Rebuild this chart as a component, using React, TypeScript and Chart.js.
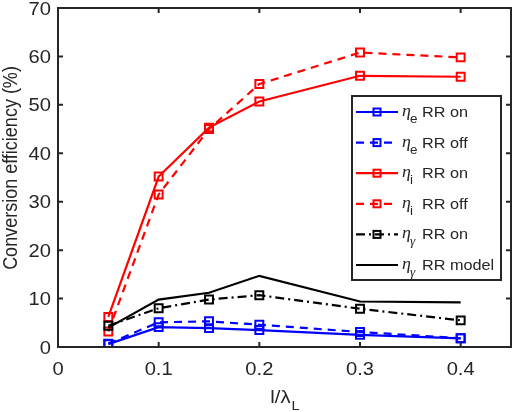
import React, { useEffect, useRef } from 'react';
import { Chart, registerables } from 'chart.js';

Chart.register(...registerables);

// l / lambda_L values
const ratio = [0.05, 0.1, 0.15, 0.2, 0.3, 0.4];

// Conversion efficiencies (%)
const etaERrOn = [0.6, 4.1, 3.9, 3.5, 2.5, 1.8];
const etaERrOff = [0.7, 5.1, 5.3, 4.6, 3.1, 1.8];
const etaIRrOn = [6.2, 35.2, 45.3, 50.7, 56.0, 55.8];
const etaIRrOff = [3.2, 31.5, 45.0, 54.3, 60.8, 59.8];
const etaGRrOn = [4.4, 8.0, 9.8, 10.7, 7.9, 5.5];
const etaGModel = [4.0, 9.8, 11.2, 14.7, 9.4, 9.2];

const xTicks = [0, 0.1, 0.2, 0.3, 0.4];
const yTicks = [0, 10, 20, 30, 40, 50, 60, 70];

const legendLabels = ['RR on', 'RR off', 'RR on', 'RR off', 'RR on', 'RR model'];
const legendSubs = ['e', 'e', 'i', 'i', 'γ', 'γ'];

const AXIS = '#262626';
const SANS = '"Liberation Sans", Arial, Helvetica, sans-serif';
const SERIF = '"Liberation Serif", "DejaVu Serif", serif';
const STRETCH = 1.12;

type Series = {
  values: number[];
  color: string;
  dash: number[];
  marker: boolean;
};

const series: Series[] = [
  { values: etaERrOn, color: '#0000ff', dash: [], marker: true },
  { values: etaERrOff, color: '#0000ff', dash: [8, 6], marker: true },
  { values: etaIRrOn, color: '#ff0000', dash: [], marker: true },
  { values: etaIRrOff, color: '#ff0000', dash: [8, 6], marker: true },
  { values: etaGRrOn, color: '#000000', dash: [9, 4, 2, 4], marker: true },
  { values: etaGModel, color: '#000000', dash: [], marker: false },
];

function text(
  ctx: CanvasRenderingContext2D,
  str: string,
  x: number,
  y: number,
  font: string,
  align: CanvasTextAlign,
  baseline: CanvasTextBaseline = 'alphabetic'
) {
  ctx.save();
  ctx.translate(x, y);
  ctx.scale(STRETCH, 1);
  ctx.font = font;
  ctx.textAlign = align;
  ctx.textBaseline = baseline;
  ctx.fillText(str, 0, 0);
  ctx.restore();
}

function measure(ctx: CanvasRenderingContext2D, str: string, font: string) {
  ctx.save();
  ctx.font = font;
  const w = ctx.measureText(str).width * STRETCH;
  ctx.restore();
  return w;
}

const decorations = {
  id: 'decorations',
  afterDraw(chart: any) {
    const ctx: CanvasRenderingContext2D = chart.ctx;
    const { left, right, top, bottom } = chart.chartArea;
    const xs = chart.scales.x;
    const ys = chart.scales.y;
    const tick = 5;

    ctx.save();
    ctx.strokeStyle = AXIS;
    ctx.fillStyle = AXIS;
    ctx.lineWidth = 2;
    ctx.setLineDash([]);

    // box
    ctx.strokeRect(left, top, right - left, bottom - top);

    // inward ticks on all four sides
    ctx.beginPath();
    xTicks.forEach((v) => {
      const px = xs.getPixelForValue(v);
      ctx.moveTo(px, bottom);
      ctx.lineTo(px, bottom - tick);
      ctx.moveTo(px, top);
      ctx.lineTo(px, top + tick);
    });
    yTicks.forEach((v) => {
      const py = ys.getPixelForValue(v);
      ctx.moveTo(left, py);
      ctx.lineTo(left + tick, py);
      ctx.moveTo(right, py);
      ctx.lineTo(right - tick, py);
    });
    ctx.stroke();

    // tick labels
    const tickFont = `18px ${SANS}`;
    xTicks.forEach((v) => {
      const px = xs.getPixelForValue(v);
      text(ctx, v === 0 ? '0' : v.toFixed(1), px, bottom + 28, tickFont, 'center');
    });
    yTicks.forEach((v) => {
      const py = ys.getPixelForValue(v);
      text(ctx, String(v), left - 7, py + 6.5, tickFont, 'right');
    });

    // x title: l/λ_L
    const xFont = `18px ${SANS}`;
    const subFont = `13px ${SANS}`;
    const main = 'l/λ';
    const wMain = measure(ctx, main, xFont);
    const wSub = measure(ctx, 'L', subFont);
    const cx = (left + right) / 2;
    const x0 = cx - (wMain + wSub) / 2;
    text(ctx, main, x0, 403, xFont, 'left');
    text(ctx, 'L', x0 + wMain + 1, 410, subFont, 'left');

    // y title
    ctx.save();
    ctx.translate(17, 168);
    ctx.rotate(-Math.PI / 2);
    ctx.scale(1, STRETCH);
    ctx.font = `18px ${SANS}`;
    ctx.textAlign = 'center';
    ctx.textBaseline = 'alphabetic';
    ctx.fillText('Conversion efficiency (%)', 0, 0);
    ctx.restore();

    // legend
    const lx = 352;
    const ly = 96;
    const lw = 149;
    const lh = 184;
    ctx.fillStyle = '#ffffff';
    ctx.fillRect(lx, ly, lw, lh);
    ctx.lineWidth = 2;
    ctx.strokeStyle = AXIS;
    ctx.strokeRect(lx, ly, lw, lh);

    series.forEach((s, i) => {
      const cy = 112 + i * 30.6;
      ctx.strokeStyle = s.color;
      ctx.lineWidth = 2.2;
      ctx.setLineDash(s.dash);
      ctx.beginPath();
      ctx.moveTo(356, cy);
      ctx.lineTo(398, cy);
      ctx.stroke();
      ctx.setLineDash([]);
      if (s.marker) {
        ctx.lineWidth = 2;
        ctx.strokeRect(377 - 3.5, cy - 3.5, 7, 7);
      }
      ctx.fillStyle = AXIS;
      text(ctx, 'η', 402, cy + 4, `italic 16px ${SERIF}`, 'left');
      const sub = legendSubs[i];
      text(
        ctx,
        sub,
        410,
        cy + 11,
        sub === 'γ' ? `italic 12px ${SERIF}` : `12px ${SANS}`,
        'left'
      );
      text(ctx, legendLabels[i], 422, cy + 5, `14.5px ${SANS}`, 'left');
    });

    ctx.restore();
  },
};

export default function App() {
  const canvasRef = useRef<HTMLCanvasElement | null>(null);

  useEffect(() => {
    const canvas = canvasRef.current;
    if (!canvas) return;

    const datasets = series.map((s, i) => ({
      data: ratio.map((x, k) => ({ x, y: s.values[k] })),
      borderColor: s.color,
      backgroundColor: 'rgba(0,0,0,0)',
      borderWidth: 2.2,
      borderDash: s.dash,
      pointStyle: 'rect' as const,
      pointRadius: s.marker ? 5.6 : 0,
      pointBorderWidth: 2,
      pointBorderColor: s.color,
      pointBackgroundColor: 'rgba(0,0,0,0)',
      tension: 0,
      fill: false,
      order: series.length - i,
    }));

    const chart = new Chart(canvas, {
      type: 'line',
      data: { datasets },
      options: {
        animation: false,
        responsive: true,
        maintainAspectRatio: false,
        layout: { padding: { left: 0, right: 9, top: 8, bottom: 0 } },
        plugins: {
          legend: { display: false },
          tooltip: { enabled: false },
        },
        scales: {
          x: {
            type: 'linear',
            min: 0,
            max: 0.45,
            grid: { display: false, drawTicks: false },
            border: { display: false },
            ticks: { display: false },
            afterFit: (s: any) => {
              s.height = 65;
              s.paddingLeft = 0;
              s.paddingRight = 0;
            },
          },
          y: {
            type: 'linear',
            min: 0,
            max: 70,
            grid: { display: false, drawTicks: false },
            border: { display: false },
            ticks: { display: false },
            afterFit: (s: any) => {
              s.width = 58;
              s.paddingTop = 0;
              s.paddingBottom = 0;
            },
          },
        },
      },
      plugins: [decorations],
    });

    return () => chart.destroy();
  }, []);

  return (
    <div style={{ position: 'fixed', left: 0, top: 0, width: 520, height: 412, background: '#fff' }}>
      <canvas ref={canvasRef} />
    </div>
  );
}
